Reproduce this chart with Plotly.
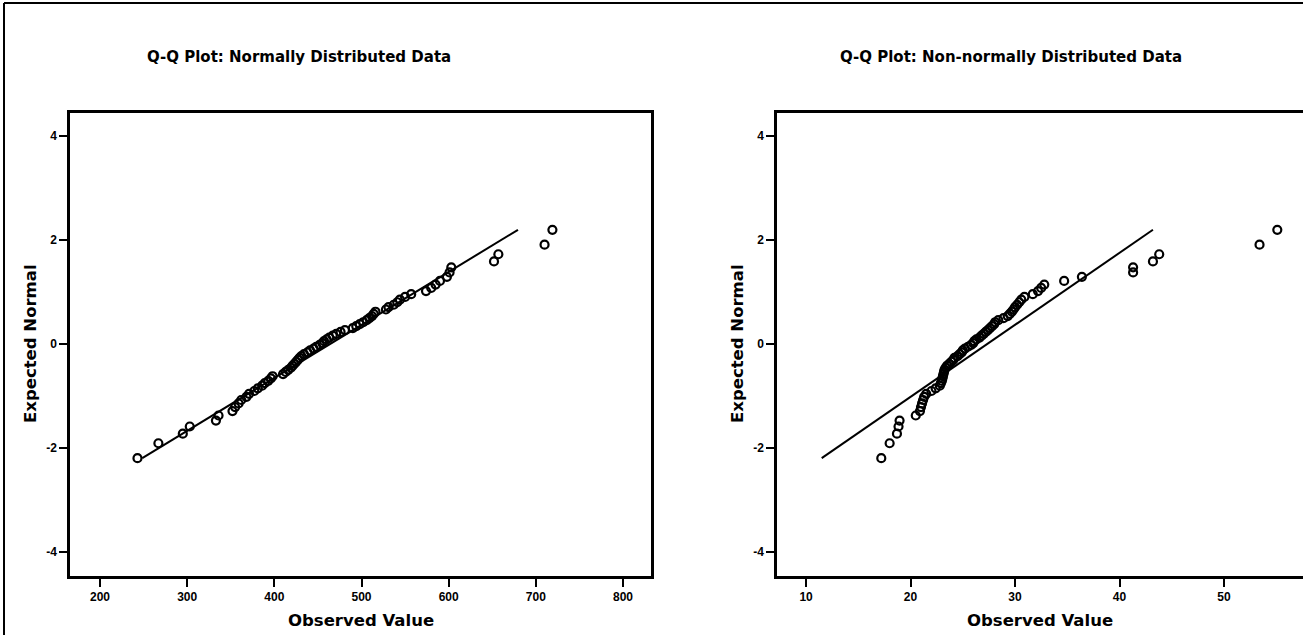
import plotly.graph_objects as go

# ---------------- data ----------------
expected_normal = [-2.195, -1.908, -1.725, -1.586, -1.473, -1.375, -1.290, -1.212, -1.142, -1.077,
                   -1.016, -0.958, -0.904, -0.852, -0.802, -0.754, -0.708, -0.663, -0.620, -0.578,
                   -0.537, -0.496, -0.457, -0.418, -0.380, -0.342, -0.305, -0.268, -0.232, -0.195,
                   -0.160, -0.124, -0.088, -0.053, -0.018, 0.018, 0.053, 0.088, 0.124, 0.160,
                   0.195, 0.232, 0.268, 0.305, 0.342, 0.380, 0.418, 0.457, 0.496, 0.537,
                   0.578, 0.620, 0.663, 0.708, 0.754, 0.802, 0.852, 0.904, 0.958, 1.016,
                   1.077, 1.142, 1.212, 1.290, 1.375, 1.473, 1.586, 1.725, 1.908, 2.195]

normal_observed = [243, 267, 295, 303, 333, 336, 352, 355, 359, 362,
                   368, 371, 377, 381, 386, 389, 393, 396, 398, 410,
                   413, 416, 419, 421, 423, 425, 427, 429, 431, 434,
                   438, 441, 445, 448, 452, 455, 457, 460, 463, 467,
                   471, 476, 481, 490, 494, 498, 502, 506, 509, 512,
                   514, 516, 528, 531, 537, 541, 544, 550, 557, 574,
                   580, 585, 590, 598, 601, 603, 652, 657, 710, 719]

nonnormal_observed = [17.2, 18.0, 18.7, 18.85, 18.95, 20.5, 20.9, 21.0, 21.1, 21.2,
                      21.3, 21.5, 22.0, 22.4, 22.8, 22.9, 23.0, 23.05, 23.1, 23.15,
                      23.2, 23.25, 23.35, 23.5, 23.7, 23.9, 24.1, 24.2, 24.5, 24.7,
                      24.9, 25.0, 25.2, 25.5, 25.8, 26.0, 26.1, 26.3, 26.6, 26.8,
                      27.0, 27.2, 27.4, 27.6, 27.8, 28.0, 28.1, 28.4, 28.9, 29.3,
                      29.5, 29.7, 29.85, 30.0, 30.2, 30.4, 30.6, 30.9, 31.7, 32.2,
                      32.5, 32.8, 34.7, 36.4, 41.3, 41.3, 43.2, 43.8, 53.4, 55.1]

normal_ref_x = [248.5, 679.5]
nonnormal_ref_x = [11.5, 43.2]
ref_y = [-2.195, 2.195]

titles = ["Q-Q Plot: Normally Distributed Data", "Q-Q Plot: Non-normally Distributed Data"]
x_title = "Observed Value"
y_title = "Expected Normal"
y_ticks = [-4, -2, 0, 2, 4]
y_ticktext = ["-4", "-2", "0", "2", "4"]
x_ticks_left = [200, 300, 400, 500, 600, 700, 800]
x_ticks_right = [10, 20, 30, 40, 50]

# ---------------- figure ----------------
W, H = 1303, 635
fig = go.Figure()

marker = dict(symbol="circle-open", size=8, color="black", line=dict(width=2.2, color="black"))

fig.add_trace(go.Scatter(x=normal_ref_x, y=ref_y, mode="lines", line=dict(color="black", width=2),
                         xaxis="x", yaxis="y", showlegend=False, hoverinfo="skip"))
fig.add_trace(go.Scatter(x=normal_observed, y=expected_normal, mode="markers", marker=marker,
                         xaxis="x", yaxis="y", showlegend=False))
fig.add_trace(go.Scatter(x=nonnormal_ref_x, y=ref_y, mode="lines", line=dict(color="black", width=2),
                         xaxis="x2", yaxis="y2", showlegend=False, hoverinfo="skip"))
fig.add_trace(go.Scatter(x=nonnormal_observed, y=expected_normal, mode="markers", marker=marker,
                         xaxis="x2", yaxis="y2", showlegend=False))

tickfont = dict(family="Liberation Sans, Arial, sans-serif", size=12, color="black", weight="bold")


def px_x(p):
    return p / W


def px_y(p):
    return 1 - p / H


common_axis = dict(showgrid=False, zeroline=False, showline=True, linecolor="black", linewidth=2.5,
                   ticks="outside", ticklen=8, tickwidth=2, tickcolor="black", tickfont=tickfont)

ydom = [px_y(576), px_y(113)]

fig.update_layout(
    width=W, height=H,
    margin=dict(l=0, r=0, t=0, b=0),
    paper_bgcolor="white", plot_bgcolor="white",
    xaxis=dict(domain=[px_x(70), px_x(651)], range=[165.6, 832.1], tickvals=x_ticks_left,
               anchor="y", mirror=True, **common_axis),
    yaxis=dict(domain=ydom, range=[-4.46, 4.44], tickvals=y_ticks, ticktext=y_ticktext,
               anchor="x", mirror=True, **common_axis),
    xaxis2=dict(domain=[px_x(777), 1.0], range=[7.22, 57.56], tickvals=x_ticks_right,
                anchor="y2", mirror=True, **common_axis),
    yaxis2=dict(domain=ydom, range=[-4.46, 4.44], tickvals=y_ticks, ticktext=y_ticktext,
                anchor="x2", mirror=False, **common_axis),
)

title_font = dict(family="DejaVu Sans, Verdana, sans-serif", size=15, color="black", weight="bold")
label_font = dict(family="DejaVu Sans, Verdana, sans-serif", size=16.5, color="black", weight="bold")

ann = []
ann.append(dict(text=titles[0], x=px_x(299), y=px_y(57), xref="paper", yref="paper",
                showarrow=False, font=title_font, xanchor="center", yanchor="middle"))
ann.append(dict(text=titles[1], x=px_x(1011), y=px_y(57), xref="paper", yref="paper",
                showarrow=False, font=title_font, xanchor="center", yanchor="middle"))
for cx in (361, 1040):
    ann.append(dict(text=x_title, x=px_x(cx), y=px_y(620), xref="paper", yref="paper",
                    showarrow=False, font=label_font, xanchor="center", yanchor="middle"))
for cx in (30, 737):
    ann.append(dict(text=y_title, x=px_x(cx), y=px_y(344), xref="paper", yref="paper",
                    showarrow=False, font=label_font, textangle=-90,
                    xanchor="center", yanchor="middle"))
fig.update_layout(annotations=ann)

# outer image border (top and left edges visible)
fig.add_shape(type="line", xref="paper", yref="paper", x0=px_x(4), x1=px_x(4), y0=-0.1, y1=px_y(3),
              line=dict(color="black", width=2))
fig.add_shape(type="line", xref="paper", yref="paper", x0=px_x(4), x1=1.1, y0=px_y(3), y1=px_y(3),
              line=dict(color="black", width=2))

fig.write_html("out.html",
               config={"displayModeBar": False},
               post_script="document.body.style.margin='0';document.body.style.overflow='hidden';")
